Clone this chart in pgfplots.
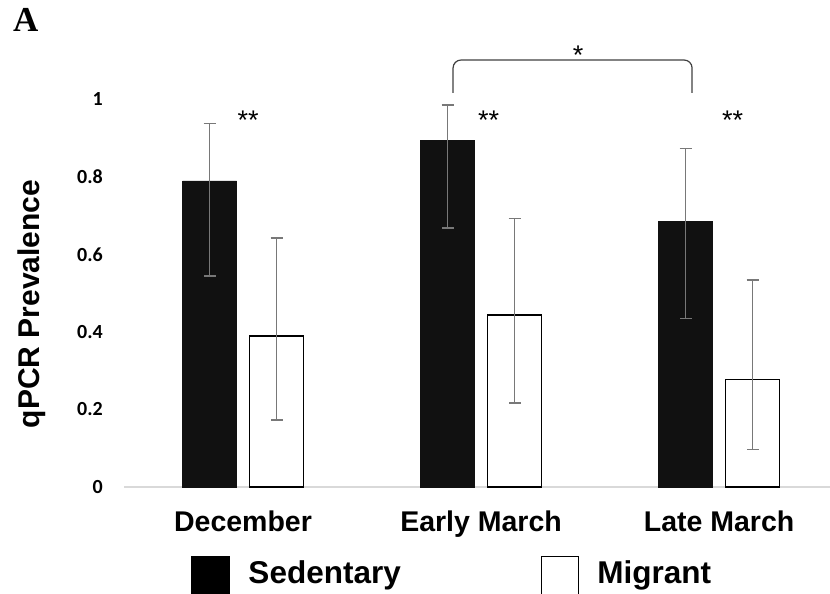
\documentclass[border=0pt]{standalone}
\usepackage{pgfplots}
\pgfplotsset{compat=1.18}
\usepackage{pgfplotstable}
\usepackage{fontspec}
\setmainfont{Liberation Sans}
\newfontfamily\calib{Carlito}
\newfontfamily\timesA{Liberation Serif}
\definecolor{barblack}{HTML}{111111}
\definecolor{errgray}{HTML}{787878}
\definecolor{axisgray}{HTML}{D9D9D9}
\definecolor{brk}{HTML}{404040}

% x positions: group centre 0,1,2 shifted by -/+ one half bar pitch
\pgfplotstableread{
x y ep em
-0.1408 0.790 0.148 0.245
0.8592 0.895 0.091 0.227
1.8592 0.685 0.189 0.250
}\sed
\pgfplotstableread{
x y ep em
0.1408 0.390 0.253 0.217
1.1408 0.444 0.249 0.228
2.1408 0.278 0.256 0.181
}\mig

\begin{document}
\begin{tikzpicture}
\path[use as bounding box] (0,0) rectangle (830bp,594bp);
\node[anchor=base west, inner sep=0pt, font=\timesA\bfseries\fontsize{35bp}{40bp}\selectfont] at (13bp,562bp) {A};
\begin{axis}[
  at={(124bp,107bp)}, anchor=south west,
  scale only axis, width=706bp, height=387.5bp,
  xmin=-0.5, xmax=2.466, ymin=0, ymax=1,
  clip=false,
  separate axis lines,
  axis x line*=bottom,
  axis y line*=left,
  x axis line style={axisgray, line width=1.5bp, -},
  y axis line style={draw=none},
  major tick length=0pt,
  xtick={0,1,2},
  xticklabels={December, Early March, Late March},
  ytick={0,0.2,0.4,0.6,0.8,1},
  /pgf/number format/assume math mode=true,
  /pgf/number format/fixed,
  /pgf/number format/precision=1,
  xticklabel style={anchor=base, inner sep=0pt, yshift=-44bp, font=\bfseries\fontsize{28.5bp}{32bp}\selectfont},
  yticklabel style={anchor=east, inner sep=0pt, xshift=-21bp, font=\calib\bfseries\fontsize{20bp}{23bp}\selectfont},
  ylabel={qPCR Prevalence},
  every axis y label/.style={at={(axis description cs:-0.1197,0.4723)}, anchor=base, rotate=90, font=\bfseries\fontsize{30bp}{34bp}\selectfont},
  legend columns=2,
  legend style={at={(axis description cs:0.0949,-0.178)}, anchor=north west, draw=none, fill=none,
    inner sep=0pt, outer sep=0pt,
    font=\bfseries\fontsize{31.5bp}{36bp}\selectfont,
    cells={anchor=base west},
    /tikz/every odd column/.append style={column sep=16bp},
    /tikz/every even column/.append style={column sep=138bp}},
]
\addplot[ybar, bar width=54bp, bar shift=0pt, fill=barblack, draw=barblack,
  legend image code/.code={\draw[fill=black, draw=black, line width=1.5bp] (0bp,-40bp) rectangle (38bp,27bp);},
  error bars/.cd, y dir=both, y explicit,
  error bar style={errgray, line width=1.6bp},
  error mark options={rotate=90, errgray, line width=1.6bp, mark size=6bp}]
  table[x=x, y=y, y error plus=ep, y error minus=em] {\sed};
\addlegendentry{Sedentary}
\addplot[ybar, bar width=54bp, bar shift=0pt, fill=white, draw=black, line width=1.5bp,
  legend image code/.code={\draw[fill=white, draw=black, line width=1.5bp] (0bp,-40bp) rectangle (37bp,27bp);},
  error bars/.cd, y dir=both, y explicit,
  error bar style={errgray, line width=1.6bp},
  error mark options={rotate=90, errgray, line width=1.6bp, mark size=6bp}]
  table[x=x, y=y, y error plus=ep, y error minus=em] {\mig};
\addlegendentry{Migrant}
\draw[brk, line width=1.2bp, rounded corners=8bp] (axis cs:0.8824,1.0168) -- (axis cs:0.8824,1.1019) -- (axis cs:1.8866,1.1019) -- (axis cs:1.8866,1.0168);
\node[font=\fontsize{27bp}{30bp}\selectfont, anchor=base, inner sep=0pt] at (axis cs:1.4076,1.09) {*};
\node[font=\fontsize{27bp}{30bp}\selectfont, anchor=base, inner sep=0pt] at (axis cs:0.021,0.922) {**};
\node[font=\fontsize{27bp}{30bp}\selectfont, anchor=base, inner sep=0pt] at (axis cs:1.032,0.922) {**};
\node[font=\fontsize{27bp}{30bp}\selectfont, anchor=base, inner sep=0pt] at (axis cs:2.057,0.922) {**};
\end{axis}
\end{tikzpicture}
\end{document}
